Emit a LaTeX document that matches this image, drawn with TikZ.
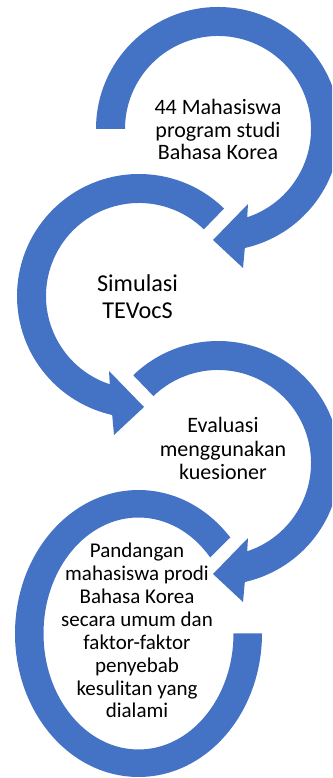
\documentclass[tikz,border=0pt]{standalone}
\usepackage{fontspec}
\setmainfont{Carlito}
\definecolor{arcblue}{HTML}{4472C4}
\begin{document}
\begin{tikzpicture}[x=1pt,y=1pt,
  arcshape/.style={fill=arcblue},
  lbl/.style={align=center,inner sep=0pt,anchor=base,text=black}]
\useasboundingbox (0,0) rectangle (332,778);
\clip (0,0) rectangle (332,778);
\coordinate (c1) at (218,649);
\coordinate (c2) at (139,482);
\coordinate (c3) at (218,315);
\coordinate (c4) at (138.5,144.5);
% arc 1
\begin{scope}[shift={(c1)}]
\fill[arcshape] (180:122) arc[start angle=180,end angle=-77.3,radius=122]
  -- (25,-139) -- (-5,-111) -- (30,-75) -- (-71.7:93)
  arc[start angle=-71.7,end angle=180,radius=93] -- cycle;
\end{scope}
% arc 2
\begin{scope}[shift={(c2)}]
\fill[arcshape] (45.8:122) arc[start angle=45.8,end angle=257.3,radius=122]
  -- (-25,-139) -- (5,-111) -- (-30,-75) -- (251.7:93)
  arc[start angle=251.7,end angle=45.8,radius=93] -- cycle;
\end{scope}
% arc 3
\begin{scope}[shift={(c3)}]
\fill[arcshape] (134:122) arc[start angle=134,end angle=-77.3,radius=122]
  -- (25,-139) -- (-5,-111) -- (30,-75) -- (-71.7:93)
  arc[start angle=-71.7,end angle=134,radius=93] -- cycle;
\end{scope}
% arc 4
\begin{scope}[shift={(c4)}]
\fill[arcshape] ({123.5*cos(42)},{143.5*sin(42)})
  arc[start angle=42,end angle=360,x radius=123.5,y radius=143.5]
  -- (95,0)
  arc[start angle=360,end angle=41,x radius=95,y radius=116] -- cycle;
\end{scope}
\node[lbl,font=\fontsize{22}{22.5}\selectfont] (t1) at (218,618)
  {44 Mahasiswa\\program studi\\Bahasa Korea};
\node[lbl,font=\fontsize{24.2}{26.6}\selectfont] (t2) at (137.5,459.7)
  {Simulasi\\TEVocS};
\node[lbl,font=\fontsize{22}{23.5}\selectfont] (t3) at (223,298)
  {Evaluasi\\menggunakan\\kuesioner};
\node[lbl,font=\fontsize{21}{22.9}\selectfont] (t4) at (137,60)
  {Pandangan\\mahasiswa prodi\\Bahasa Korea\\secara umum dan\\faktor-faktor\\penyebab\\kesulitan yang\\dialami};
\end{tikzpicture}
\end{document}
